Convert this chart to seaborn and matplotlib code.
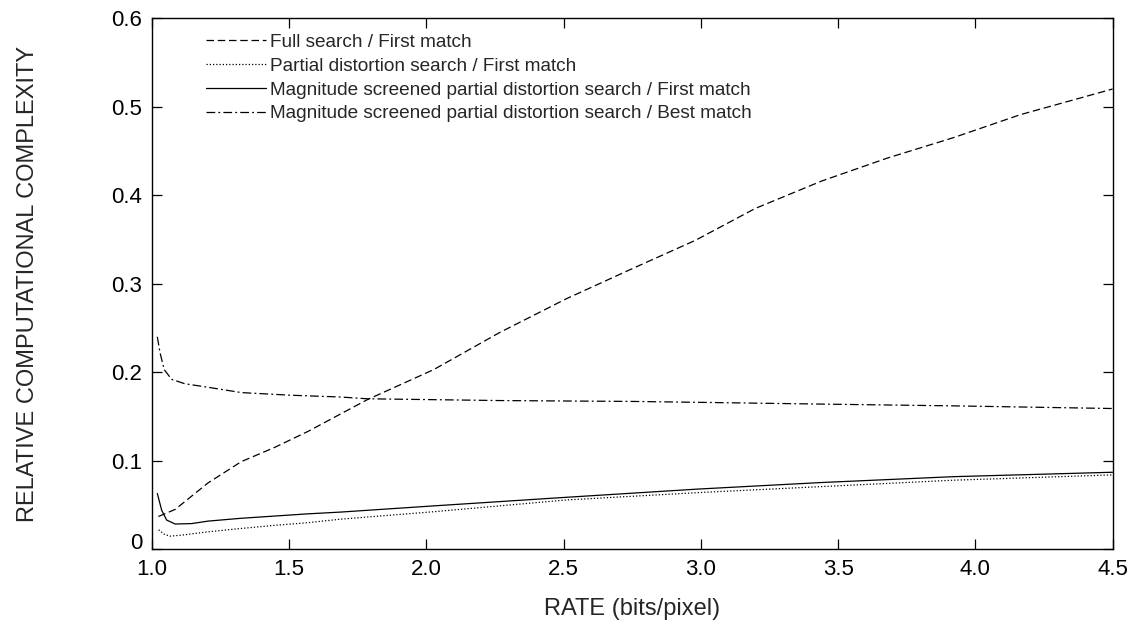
import matplotlib
matplotlib.use("Agg")
import matplotlib.pyplot as plt
import seaborn as sns
import pandas as pd

# Relative complexity vs. coding rate for four search strategies
full_x = [1.024, 1.085, 1.205, 1.326, 1.447, 1.568, 1.785, 2.027, 2.268, 2.51,
          2.75, 2.98, 3.198, 3.44, 3.68, 3.92, 4.164, 4.5]
full_y = [0.037, 0.045, 0.075, 0.099, 0.115, 0.133, 0.169, 0.203, 0.245, 0.283,
          0.317, 0.349, 0.385, 0.416, 0.442, 0.465, 0.491, 0.52]

pds_x = [1.025, 1.045, 1.066, 1.11, 1.205, 1.326, 1.447, 1.568, 1.688, 2.027,
         2.51, 2.99, 3.44, 3.92, 4.5]
pds_y = [0.022, 0.017, 0.0148, 0.016, 0.0197, 0.0235, 0.027, 0.030, 0.034, 0.0424,
         0.0557, 0.064, 0.0708, 0.078, 0.084]

mspds_first_x = [1.02, 1.036, 1.054, 1.085, 1.145, 1.205, 1.326, 1.447, 1.568, 1.688,
                 2.027, 2.51, 2.99, 3.44, 3.92, 4.5]
mspds_first_y = [0.063, 0.044, 0.033, 0.0285, 0.029, 0.0318, 0.035, 0.0375, 0.040, 0.042,
                 0.049, 0.0587, 0.068, 0.0754, 0.082, 0.087]

mspds_best_x = [1.02, 1.03, 1.045, 1.072, 1.12, 1.205, 1.326, 1.507, 1.688, 1.785,
                2.268, 2.75, 2.99, 3.44, 3.92, 4.5]
mspds_best_y = [0.24, 0.222, 0.203, 0.192, 0.187, 0.183, 0.177, 0.174, 0.172, 0.170,
                0.168, 0.167, 0.166, 0.164, 0.162, 0.159]

labels = [
    "Full search / First match",
    "Partial distortion search / First match",
    "Magnitude screened partial distortion search / First match",
    "Magnitude screened partial distortion search / Best match",
]

x_ticks = [1.0, 1.5, 2.0, 2.5, 3.0, 3.5, 4.0, 4.5]
x_tick_labels = ["1.0", "1.5", "2.0", "2.5", "3.0", "3.5", "4.0", "4.5"]
y_ticks = [0.0, 0.1, 0.2, 0.3, 0.4, 0.5, 0.6]
y_tick_labels = ["0", "0.1", "0.2", "0.3", "0.4", "0.5", "0.6"]

sns.set_theme(style="ticks")
plt.rcParams["font.family"] = ["Liberation Sans", "DejaVu Sans"]

fig = plt.figure(figsize=(11.33, 6.27), dpi=100)
ax = fig.add_axes([0.134, 0.124, 0.848, 0.847])

series = [
    (full_x, full_y, (0, (6, 3))),
    (pds_x, pds_y, (0, (1, 1.6))),
    (mspds_first_x, mspds_first_y, "-"),
    (mspds_best_x, mspds_best_y, (0, (7, 2.5, 1.5, 2.5))),
]

for (xs, ys, ls), lab in zip(series, labels):
    df = pd.DataFrame({"rate": xs, "complexity": ys})
    sns.lineplot(data=df, x="rate", y="complexity", ax=ax, color="black",
                 linewidth=0.9, linestyle=ls, estimator=None, sort=False, label=lab)

ax.set_xlim(1.0, 4.5)
ax.set_ylim(0.0, 0.6)
ax.set_xticks(x_ticks)
ax.set_xticklabels(x_tick_labels)
ax.set_yticks(y_ticks)
ax.set_yticklabels(y_tick_labels)
ax.tick_params(direction="in", length=7, width=0.9, top=True, right=True,
               labelsize=16, colors="black")
ax.tick_params(axis="y", pad=7)
ax.tick_params(axis="x", pad=7)
for s in ax.spines.values():
    s.set_linewidth(1.0)
    s.set_color("black")

# rest the zero label on its baseline so it clears the first rate label
ax.get_yaxis().get_major_ticks()[0].label1.set_va("baseline")

ax.set_xlabel("RATE (bits/pixel)", fontsize=17, labelpad=13)
ax.set_ylabel("RELATIVE COMPUTATIONAL COMPLEXITY", fontsize=17, labelpad=52)

ax.legend(loc="upper left", bbox_to_anchor=(0.048, 0.985), frameon=False,
          fontsize=13.7, handlelength=3.2, handletextpad=0.2, labelspacing=0.34,
          borderaxespad=0)

fig.savefig("out.png", dpi=100)
